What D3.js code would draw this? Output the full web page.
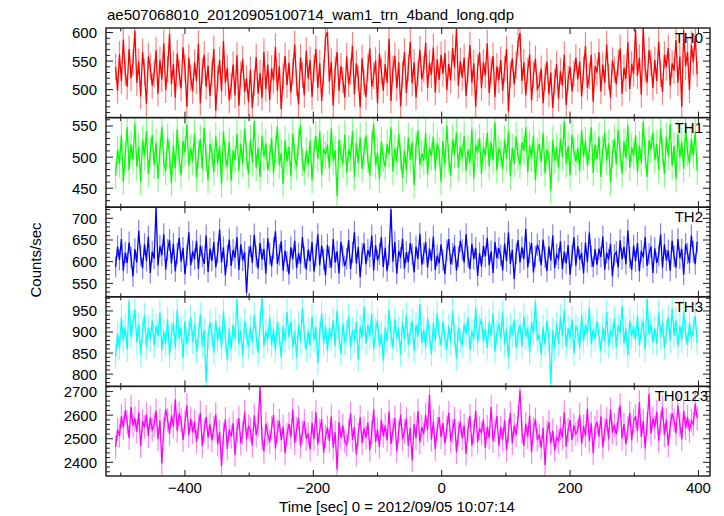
<!DOCTYPE html>
<html><head><meta charset="utf-8">
<script src="https://cdn.jsdelivr.net/npm/d3@7"></script>
<style>
body{margin:0;background:#fff}
svg{display:block;font-family:"Liberation Sans",Arial,Helvetica,sans-serif}
</style>
</head><body>
<svg id="c" width="724" height="516"></svg>
<script>
const title = "ae507068010_20120905100714_wam1_trn_4band_long.qdp";
const xLabel = "Time [sec] 0 = 2012/09/05 10:07:14";
const yLabel = "Counts/sec";
const tStart = -508, tStep = 3;

const th0 = [
540,498,562,515,588,530,505,571,520,547,
603,512,549,488,566,531,475,558,540,507,
527,569,493,552,518,581,499,536,598,510,
545,486,563,529,502,574,538,470,556,521,
497,548,515,580,476,533,561,505,542,489,
528,571,463,519,552,497,585,512,538,481,
506,544,490,560,472,527,553,496,520,478,
535,468,512,557,493,529,485,566,501,544,
482,537,516,575,498,541,466,523,559,508,
547,495,532,579,511,474,556,526,490,568,
519,552,487,538,571,503,546,480,529,592,
601,514,549,472,535,566,498,541,517,486,
558,509,531,577,492,546,520,469,555,513,
487,539,572,505,524,551,476,563,533,498,
545,512,589,480,536,559,502,548,471,527,
566,494,538,584,511,548,486,529,570,518,
536,582,503,547,526,574,495,553,517,561,
528,564,499,545,516,573,538,606,507,550,
521,556,489,534,578,512,546,470,539,565,
503,548,525,581,494,532,559,487,541,516,
552,498,536,571,462,527,555,509,543,584,
599,515,548,490,533,562,481,526,554,501,
508,537,476,521,549,492,530,468,514,545,
484,532,507,561,473,519,540,497,528,556,
518,549,488,535,577,503,524,561,479,541,
530,566,497,544,512,579,523,486,551,535,
509,547,572,493,538,519,583,501,545,528,
605,524,556,491,608,537,512,569,547,503,
552,515,584,528,496,561,539,573,507,546,
533,587,512,558,470,604,541,566,499,579,
548,595,527];

const th1 = [
470,512,489,535,461,502,548,479,520,496,
553,484,517,460,528,501,542,473,509,536,
487,523,465,510,549,492,477,531,504,458,
519,482,545,497,471,526,508,552,486,514,
493,538,467,505,529,481,547,499,463,521,
507,476,533,490,518,456,541,502,484,525,
462,511,495,537,478,521,489,546,503,472,
529,491,558,483,515,468,534,500,522,479,
498,531,474,512,549,487,506,457,527,493,
516,469,538,501,485,524,552,492,476,510,
488,527,463,509,534,497,541,471,514,503,
520,482,546,494,511,437,528,505,489,536,
475,513,499,542,468,523,490,532,481,508,
535,496,470,519,553,486,507,464,526,498,
484,521,505,548,477,514,493,537,502,466,
511,478,532,496,524,455,518,543,487,506,
494,539,472,515,501,533,480,522,509,460,
526,488,551,497,470,529,504,540,483,517,
499,534,478,512,491,545,466,520,507,531,
473,516,502,539,485,524,495,556,479,513,
506,481,528,497,542,469,515,490,533,501,
487,524,510,548,476,519,498,535,463,508,
521,492,539,474,512,503,446,527,495,516,
482,530,500,557,489,518,471,536,509,493,
514,478,543,501,526,486,511,548,475,520,
497,533,468,512,539,494,522,459,505,529,
488,544,507,473,525,498,551,483,516,502,
535,476,519,491,557,504,468,527,512,540,
495,521,480,546,509,473,532,501,553,486,
518,465,537,499,524,481,545,508,490,529,
503,541,478];

const th2 = [
588,635,604,652,579,621,597,644,610,566,
629,598,671,613,585,640,602,658,574,623,
607,724,591,636,615,663,582,627,650,596,
641,578,619,655,600,632,571,615,668,592,
624,606,648,583,637,612,595,660,576,630,
602,645,587,621,674,598,633,568,614,651,
590,627,609,656,581,640,603,622,528,611,
636,597,662,612,584,643,605,629,572,654,
618,589,631,670,595,616,647,579,625,600,
571,633,606,648,585,619,596,657,610,582,
628,601,645,577,614,663,592,637,605,569,
639,610,586,652,598,624,573,646,613,590,
607,650,583,621,668,596,634,564,619,642,
594,627,611,660,580,638,603,618,657,588,
632,578,616,721,600,645,572,625,609,653,
584,622,599,643,617,576,635,606,664,593,
619,645,586,630,602,658,581,614,596,640,
603,571,626,652,594,618,637,579,611,648,
627,598,663,610,583,641,606,632,567,620,
589,636,612,655,592,624,574,645,608,631,
614,580,642,601,668,595,627,560,619,650,
598,633,606,676,587,621,643,575,612,639,
625,592,651,610,578,634,603,660,585,617,
607,647,583,623,596,638,570,614,656,591,
636,604,620,573,644,599,667,612,588,629,
593,630,611,658,582,621,605,641,566,615,
622,587,649,606,634,594,672,609,581,637,
601,643,578,625,610,657,590,618,635,574,
631,597,614,663,586,640,603,626,579,648,
612,586,652,608,629,570,641,619,597,660,
623,594,646];

const th3 = [
842,897,861,935,880,912,858,974,889,921,
953,876,918,847,903,939,865,910,882,927,
868,914,891,946,857,901,873,930,845,896,
921,863,952,884,909,839,926,872,898,935,
877,919,854,892,941,869,906,781,887,923,
895,851,928,880,913,862,949,886,834,908,
860,917,885,978,871,904,843,926,893,866,
912,874,940,889,851,922,980,867,902,881,
934,870,907,856,924,893,840,915,879,948,
887,925,863,901,839,918,876,955,892,858,
903,868,936,881,912,826,897,944,873,915,
856,909,884,929,867,951,890,848,921,875,
898,937,862,906,879,924,835,913,887,960,
872,916,889,943,858,903,927,866,895,832,
911,878,952,894,863,930,885,908,847,925,
883,941,869,902,926,855,917,889,966,874,
907,864,932,891,848,921,880,945,896,868,
925,886,858,914,875,950,892,837,910,881,
869,918,895,934,857,902,883,957,874,913,
931,877,908,862,924,890,944,853,899,920,
885,946,871,906,838,915,893,929,862,901,
917,866,938,888,911,851,924,896,973,879,
894,846,912,870,927,883,776,905,861,919,
872,935,890,952,866,909,887,930,849,914,
903,861,941,879,918,896,958,871,907,884,
926,893,855,912,879,947,868,904,889,932,
864,915,898,962,873,908,845,927,890,913,
881,938,869,904,927,858,979,894,919,876,
909,872,946,887,924,863,901,935,880,956,
892,928,866,915,881,949,898,870,921,887,
905,938,874];

const th0123 = [
2465,2540,2512,2595,2548,2620,2571,2503,2634,2556,
2587,2530,2612,2468,2575,2549,2603,2511,2590,2538,
2560,2619,2498,2577,2395,2543,2625,2581,2520,2599,
2553,2666,2532,2607,2579,2495,2568,2642,2514,2586,
2527,2573,2488,2551,2610,2469,2536,2592,2505,2561,
2493,2547,2604,2476,2529,2385,2518,2583,2457,2540,
2509,2566,2431,2534,2588,2480,2526,2613,2497,2552,
2538,2471,2599,2515,2558,2720,2502,2445,2564,2520,
2486,2545,2601,2459,2530,2576,2494,2551,2438,2517,
2563,2507,2622,2482,2541,2589,2468,2528,2574,2499,
2522,2455,2567,2498,2612,2476,2535,2583,2441,2510,
2548,2491,2595,2462,2527,2370,2571,2503,2556,2489,
2474,2532,2608,2495,2550,2433,2518,2591,2481,2544,
2505,2569,2452,2526,2624,2487,2540,2465,2581,2512,
2557,2493,2615,2478,2536,2588,2447,2529,2603,2498,
2531,2586,2469,2545,2408,2562,2501,2618,2484,2550,
2519,2601,2537,2685,2496,2574,2456,2543,2592,2507,
2566,2479,2548,2610,2491,2532,2585,2443,2524,2573,
2501,2557,2436,2539,2597,2472,2528,2619,2486,2545,
2523,2582,2461,2550,2504,2634,2489,2537,2596,2470,
2548,2497,2578,2452,2533,2609,2481,2556,2516,2590,
2705,2528,2470,2563,2507,2598,2443,2541,2582,2495,
2515,2462,2547,2388,2526,2571,2480,2534,2452,2509,
2487,2544,2503,2612,2466,2538,2579,2495,2557,2521,
2536,2601,2478,2553,2512,2627,2490,2566,2439,2548,
2571,2509,2595,2463,2540,2584,2497,2625,2526,2559,
2518,2583,2642,2501,2562,2477,2546,2609,2493,2574,
2596,2532,2655,2508,2575,2459,2563,2690,2521,2587,
2548,2614,2492,2570,2633,2515,2582,2471,2556,2608,
2579,2523,2641,2560,2498,2617,2545,2592,2533,2576,
2561,2648,2587];

const seriesNames = ["TH0","TH1","TH2","TH3","TH0123"];
const seriesValues = [th0, th1, th2, th3, th0123];
const seriesColors = ["#ff0000","#00ff00","#0000ff","#00ffff","#ff00ff"];
const yDomains = [[451,608],[419.5,563.5],[519,725.6],[771,983.6],[2342,2722]];
const yMajorTicks = [[500,550,600],[450,500,550],[550,600,650,700],[800,850,900,950],[2400,2500,2600,2700]];
const yMinorStep = [10,10,10,10,20];
const xDomain = [-523, 418];
const xMajorTicks = [-400,-200,0,200,400];
const xMinorTicks = [-500,-300,-100,100,300];

(function () {
  const pL = 106, pR = 710, pT = 28, pB = 476;
  const nP = seriesNames.length;
  const pH = (pB - pT) / nP;
  const frameColor = "#1a1a1a";

  const svg = d3.select("#c");
  const x = d3.scaleLinear().domain(xDomain).range([pL, pR]);
  const defs = svg.append("defs");

  seriesValues.forEach((vals, i) => {
    const y0 = pT + i * pH, y1 = y0 + pH;
    const y = d3.scaleLinear().domain(yDomains[i]).range([y1, y0]);
    const data = vals.map((v, k) => ({t: tStart + k * tStep, v}));

    defs.append("clipPath").attr("id", "clip" + i)
      .append("rect").attr("x", pL).attr("y", y0).attr("width", pR - pL).attr("height", pH);

    const g = svg.append("g").attr("clip-path", `url(#clip${i})`);
    g.append("g").selectAll("line").data(data).join("line")
      .attr("x1", d => x(d.t)).attr("x2", d => x(d.t))
      .attr("y1", d => y(d.v - Math.sqrt(d.v))).attr("y2", d => y(d.v + Math.sqrt(d.v)))
      .attr("stroke", seriesColors[i]).attr("stroke-opacity", 0.5).attr("stroke-width", 1.2);
    const line = d3.line().x(d => x(d.t)).y(d => y(d.v)).curve(d3.curveLinear);
    g.append("path").datum(data).attr("d", line)
      .attr("fill", "none").attr("stroke", seriesColors[i]).attr("stroke-width", 1.3)
      .attr("stroke-linejoin", "miter");

    svg.append("rect").attr("x", pL).attr("y", y0).attr("width", pR - pL).attr("height", pH)
      .attr("fill", "none").attr("stroke", frameColor).attr("stroke-width", 1.4);

    const tk = svg.append("g").attr("stroke", frameColor).attr("stroke-width", 1);
    const minor = d3.range(Math.ceil(yDomains[i][0] / yMinorStep[i]) * yMinorStep[i], yDomains[i][1], yMinorStep[i]);
    minor.forEach(v => {
      const len = yMajorTicks[i].includes(v) ? 7 : 4;
      const yy = y(v);
      tk.append("line").attr("x1", pL).attr("x2", pL + len).attr("y1", yy).attr("y2", yy);
      tk.append("line").attr("x1", pR).attr("x2", pR - len).attr("y1", yy).attr("y2", yy);
    });
    xMajorTicks.concat(xMinorTicks).forEach(t => {
      const len = xMajorTicks.includes(t) ? 6 : 3.5;
      const xx = x(t);
      tk.append("line").attr("x1", xx).attr("x2", xx).attr("y1", y0).attr("y2", y0 + len);
      tk.append("line").attr("x1", xx).attr("x2", xx).attr("y1", y1).attr("y2", y1 - len);
    });

    svg.append("g").selectAll("text").data(yMajorTicks[i]).join("text")
      .attr("x", 97).attr("y", d => y(d)).attr("dy", "0.36em")
      .attr("text-anchor", "end").attr("font-size", 15).attr("fill", "#000")
      .text(d => d);

    svg.append("text")
      .attr("x", i === nP - 1 ? 708 : 703).attr("y", y0 + 15)
      .attr("text-anchor", "end").attr("font-size", 15).attr("fill", "#000")
      .text(seriesNames[i]);
  });

  svg.append("g").selectAll("text").data(xMajorTicks).join("text")
    .attr("x", d => x(d)).attr("y", 493)
    .attr("text-anchor", "middle").attr("font-size", 15).attr("fill", "#000")
    .text(d => d < 0 ? "\u2212" + Math.abs(d) : d);

  svg.append("text").attr("x", 107).attr("y", 20).attr("font-size", 15).attr("fill", "#000").text(title);
  svg.append("text").attr("x", 397).attr("y", 512).attr("text-anchor", "middle")
    .attr("font-size", 15).attr("fill", "#000").text(xLabel);
  svg.append("text").attr("transform", "translate(41,260) rotate(-90)")
    .attr("text-anchor", "middle").attr("font-size", 15).attr("fill", "#000").text(yLabel);
})();
</script>
</body></html>
